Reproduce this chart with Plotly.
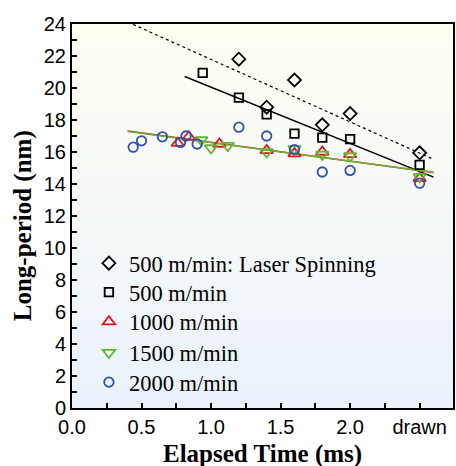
import numpy as np
import plotly.graph_objects as go

# ---- data ----
x_laser = [1.2, 1.4, 1.6, 1.8, 2.0, 2.5]
y_laser = [21.8, 18.8, 20.5, 17.7, 18.4, 15.95]

x_500 = [0.94, 1.2, 1.4, 1.6, 1.8, 2.0, 2.5]
y_500 = [20.95, 19.4, 18.35, 17.15, 16.9, 16.8, 15.2]

x_1000 = [0.76, 0.84, 1.06, 1.4, 1.6, 1.8, 2.0, 2.5]
y_1000 = [16.55, 16.95, 16.5, 16.1, 15.9, 16.0, 15.85, 14.35]

x_1500 = [0.93, 1.0, 1.12, 1.4, 1.6, 1.8, 2.0, 2.5]
y_1500 = [16.75, 16.25, 16.4, 16.0, 16.2, 15.85, 15.75, 14.45]

x_2000 = [0.44, 0.5, 0.65, 0.78, 0.82, 0.9, 1.2, 1.4, 1.6, 1.8, 2.0, 2.5]
y_2000 = [16.3, 16.7, 16.95, 16.6, 17.0, 16.5, 17.55, 17.0, 16.15, 14.75, 14.85, 14.05]

x_tickvals = [0.0, 0.5, 1.0, 1.5, 2.0, 2.5]
x_ticktext = ["0.0", "0.5", "1.0", "1.5", "2.0", "drawn"]
y_tickvals = list(range(0, 25, 2))

names = ["500 m/min: Laser Spinning", "500 m/min", "1000 m/min", "1500 m/min", "2000 m/min"]

# fit-line extents
fit_laser_range = (0.4, 2.6)
fit_500_range = (0.81, 2.6)
fit_1000_range = (0.4, 2.6)
fit_1500_range = (0.4, 2.6)

# ---- figure ----
W, H = 456, 466
ML, MR, MT, MB = 72, 1, 24, 58
PW, PH = W - ML - MR, H - MT - MB

fig = go.Figure()

# gradient background
top_rgb = np.array([255, 254, 242])
bot_rgb = np.array([234, 242, 252])
nb = 60
shapes = []
for i in range(nb):
    f = i / (nb - 1)
    c = (bot_rgb * (1 - f) + top_rgb * f).round().astype(int)
    shapes.append(dict(type="rect", xref="paper", yref="paper",
                       x0=0, x1=1, y0=i / nb, y1=(i + 1) / nb + 0.002,
                       fillcolor=f"rgb({c[0]},{c[1]},{c[2]})", line=dict(width=0),
                       layer="below"))


def fit_line(xs, ys, rng):
    k, b = np.polyfit(xs, ys, 1)
    xx = np.array(rng)
    return xx, k * xx + b


lx, ly = fit_line(x_laser, y_laser, fit_laser_range)
fig.add_trace(go.Scatter(x=lx, y=ly, mode="lines", line=dict(color="black", width=1.2, dash="dot"),
                         showlegend=False, hoverinfo="skip"))
lx, ly = fit_line(x_500, y_500, fit_500_range)
fig.add_trace(go.Scatter(x=lx, y=ly, mode="lines", line=dict(color="black", width=1.5),
                         showlegend=False, hoverinfo="skip"))
lx, ly = fit_line(x_1000, y_1000, fit_1000_range)
fig.add_trace(go.Scatter(x=lx, y=ly, mode="lines", line=dict(color="#e8141c", width=1.5),
                         showlegend=False, hoverinfo="skip"))
lx, ly = fit_line(x_1500, y_1500, fit_1500_range)
fig.add_trace(go.Scatter(x=lx, y=ly, mode="lines", line=dict(color="#62b535", width=1.5),
                         showlegend=False, hoverinfo="skip"))

series = [
    (x_laser, y_laser, names[0], "diamond-open", "black", 10),
    (x_500, y_500, names[1], "square-open", "black", 8.5),
    (x_1000, y_1000, names[2], "triangle-up-open", "#e8141c", 11),
    (x_1500, y_1500, names[3], "triangle-down-open", "#62b535", 11),
    (x_2000, y_2000, names[4], "circle-open", "#3352aa", 9.5),
]
legend_ids = ["legend", "legend2", "legend3", "legend4", "legend5"]
for (xs, ys, nm, sym, col, sz), lid in zip(series, legend_ids):
    fig.add_trace(go.Scatter(x=xs, y=ys, mode="markers", name=nm, legend=lid,
                             marker=dict(symbol=sym, color=col, size=sz,
                                         line=dict(color=col, width=1.8))))

# legend row centres (pixels from top of figure)
row_px = [263.5, 292.5, 322, 353, 382.5]
legend_left_px = 89
legend_font = dict(family="Liberation Serif", size=22.5, color="black")
legends = {}
for lid, py in zip(legend_ids, row_px):
    legends[lid] = dict(x=(legend_left_px - ML) / PW, y=(H - MB - py) / PH,
                        xanchor="left", yanchor="middle",
                        bgcolor="rgba(0,0,0,0)", borderwidth=0, font=legend_font)

fig.update_layout(
    width=W, height=H,
    margin=dict(l=ML, r=MR, t=MT, b=MB),
    paper_bgcolor="white",
    plot_bgcolor="white",
    shapes=shapes,
    showlegend=True,
    xaxis=dict(range=[0, 2.74], tickmode="array", tickvals=x_tickvals, ticktext=x_ticktext,
               ticks="inside", ticklen=5, tickwidth=1.5, tickcolor="black",
               minor=dict(ticks="inside", dtick=0.25, ticklen=5, tickwidth=1.5, tickcolor="black"),
               showline=True, linecolor="black", linewidth=2, mirror=True,
               showgrid=False, zeroline=False,
               tickfont=dict(family="Liberation Sans", size=20, color="black")),
    yaxis=dict(range=[0, 24], tickmode="array", tickvals=y_tickvals,
               ticks="inside", ticklen=5, tickwidth=1.5, tickcolor="black",
               minor=dict(ticks="inside", dtick=1, ticklen=5, tickwidth=1.5, tickcolor="black"),
               showline=True, linecolor="black", linewidth=2, mirror=True,
               showgrid=False, zeroline=False,
               tickfont=dict(family="Liberation Sans", size=20, color="black")),
    annotations=[
        dict(text="<b>Elapsed Time (ms)</b>", xref="paper", yref="paper",
             x=(264 - ML) / PW, y=(H - MB - 453.5) / PH,
             showarrow=False, xanchor="center", yanchor="middle",
             font=dict(family="Liberation Serif", size=25, color="black")),
        dict(text="<b>Long-period (nm)</b>", xref="paper", yref="paper",
             x=(23 - ML) / PW, y=(H - MB - 226) / PH,
             showarrow=False, xanchor="center", yanchor="middle", textangle=-90,
             font=dict(family="Liberation Serif", size=25, color="black")),
    ],
)
fig.update_layout(**legends)

fig.write_html("out.html", config={"displayModeBar": False},
               post_script="document.body.style.margin='0';document.body.style.overflow='hidden';")
